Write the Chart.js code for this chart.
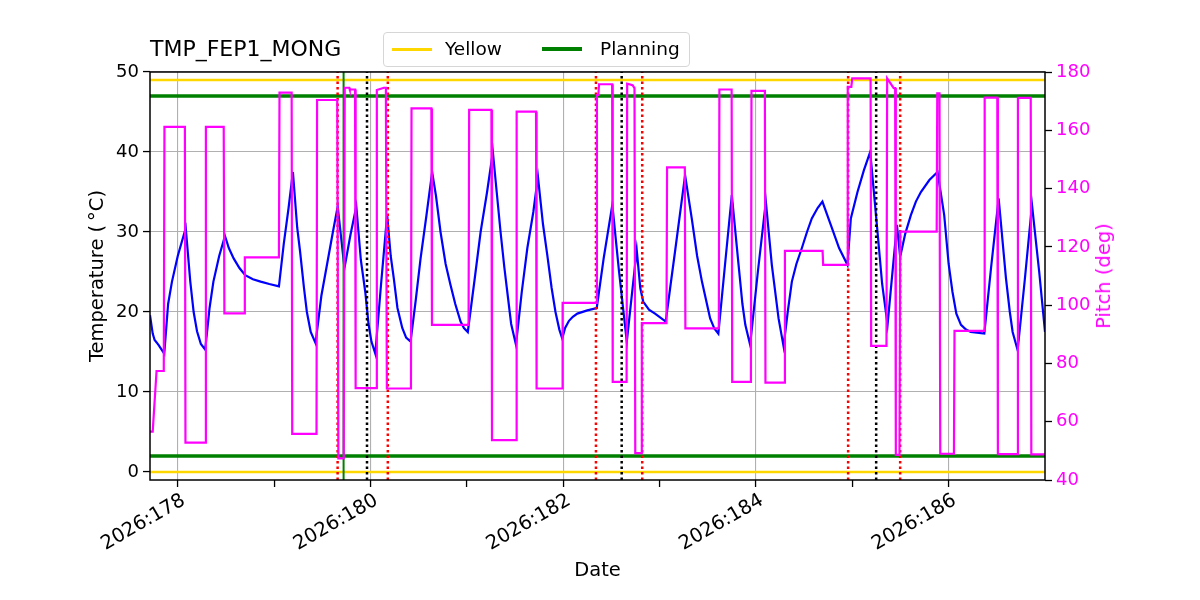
<!DOCTYPE html>
<html lang="en">
<head>
  <meta charset="UTF-8">
  <title>TMP_FEP1_MONG</title>
  <script src="https://cdn.jsdelivr.net/npm/chart.js"></script>
  <style>
    body { margin: 0; background: #fff; font-family: 'DejaVu Sans', sans-serif; }
    .wrap { position: relative; width: 1200px; height: 600px; }
    .title { position: absolute; left: 150px; top: 38px; font-size: 22px; line-height: 22px; color: #000; }
    .legend { position: absolute; left: 383px; top: 32px; width: 305px; height: 33px; border: 1px solid #d6d6d6; border-radius: 4px; background: rgba(255,255,255,0.85); }
    .legend .sw { position: absolute; width: 40px; }
    .legend .tx { position: absolute; top: 5px; font-size: 18.5px; line-height: 22px; color: #000; }
    .ylab2 { position: absolute; left: 1104px; top: 276px; transform: translate(-50%, -50%) rotate(-90deg);
             white-space: nowrap; font-size: 19.5px; line-height: 22px; color: #ff00ff; }
  </style>
</head>
<body>
<div class="wrap">
  <canvas id="chart" width="1200" height="600"></canvas>
  <div class="title">TMP_FEP1_MONG</div>
  <div class="legend">
    <div class="sw" style="left:8px;top:15px;height:2.5px;background:#ffd700"></div>
    <div class="tx" style="left:61px">Yellow</div>
    <div class="sw" style="left:158px;top:14px;height:3.5px;background:#008000"></div>
    <div class="tx" style="left:216px">Planning</div>
  </div>
  <div class="ylab2">Pitch (deg)</div>
</div>

<script>
  // x range in fractional day-of-year (2026)
  const xMin = 177.712, xMax = 187.0;
  const dayTicks = [178, 179, 180, 181, 182, 183, 184, 185, 186];

  // TMP_FEP1_MONG (degC)
  const tempDays = [
    177.712, 177.74, 177.76, 177.80, 177.86, 177.90, 177.94, 178.00, 178.083, 178.13,
    178.165, 178.20, 178.24, 178.285, 178.33, 178.37, 178.43, 178.49, 178.53, 178.58,
    178.64, 178.70, 178.78, 178.86, 178.95, 179.05, 179.10, 179.15, 179.195, 179.24,
    179.27, 179.31, 179.34, 179.38, 179.43, 179.49, 179.55, 179.61, 179.66, 179.73,
    179.79, 179.853, 179.90, 179.946, 179.98, 180.01, 180.05, 180.11, 180.173, 180.21,
    180.242, 180.28, 180.33, 180.37, 180.416, 180.47, 180.52, 180.58, 180.64, 180.68,
    180.727, 180.78, 180.83, 180.88, 180.935, 180.97, 181.01, 181.08, 181.143, 181.21,
    181.27, 181.31, 181.35, 181.39, 181.42, 181.46, 181.51, 181.57, 181.628, 181.69,
    181.738, 181.79, 181.835, 181.88, 181.92, 181.96, 181.99, 182.02, 182.06, 182.10,
    182.147, 182.25, 182.348, 182.42, 182.51, 182.58, 182.66, 182.763, 182.80, 182.83,
    182.89, 182.953, 183.064, 183.11, 183.16, 183.265, 183.334, 183.39, 183.44, 183.525,
    183.57, 183.61, 183.68, 183.75, 183.82, 183.86, 183.89, 183.94, 184.02, 184.103,
    184.165, 184.235, 184.287, 184.33, 184.373, 184.42, 184.477, 184.53, 184.58, 184.64,
    184.69, 184.777, 184.863, 184.95, 184.985, 185.054, 185.12, 185.186, 185.262, 185.31,
    185.366, 185.463, 185.497, 185.55, 185.608, 185.66, 185.712, 185.80, 185.885, 185.954,
    186.00, 186.04, 186.08, 186.128, 186.18, 186.23, 186.37, 186.44, 186.519, 186.595,
    186.635, 186.664, 186.716, 186.79, 186.865, 186.94, 186.993, 187.0
  ];
  const tempVals = [
    19.6, 17.3, 16.5, 15.9, 14.8, 21.0, 23.8, 27.0, 30.5, 23.8,
    20.0, 17.6, 16.0, 15.3, 20.5, 23.8, 27.0, 29.5, 28.0, 26.7,
    25.5, 24.6, 24.1, 23.8, 23.5, 23.2, 28.5, 33.0, 37.5, 30.5,
    27.5, 23.0, 20.0, 17.5, 16.1, 22.0, 26.0, 30.0, 33.2, 25.5,
    29.5, 33.2, 26.5, 22.5, 18.5, 16.3, 14.8, 23.5, 32.1, 27.0,
    24.2, 20.5, 18.0, 16.8, 16.3, 21.5, 26.7, 32.0, 37.5, 34.5,
    30.0, 26.0, 23.4, 21.0, 18.8, 18.0, 17.5, 24.0, 30.0, 35.0,
    40.0, 35.0, 30.0, 25.5, 22.5, 18.5, 15.9, 22.5, 28.0, 32.5,
    36.9, 31.0, 27.1, 23.0, 20.0, 17.8, 16.7, 18.0, 18.9, 19.4,
    19.8, 20.2, 20.5, 26.7, 33.4, 25.0, 16.3, 27.75, 23.0, 21.3,
    20.3, 19.8, 18.8, 23.0, 27.5, 37.1, 31.7, 27.0, 23.8, 19.2,
    17.9, 17.3, 26.0, 34.6, 25.9, 21.0, 18.4, 15.9, 25.0, 33.8,
    25.9, 19.2, 15.7, 20.0, 23.8, 26.0, 28.0, 30.0, 31.7, 33.0,
    33.8, 30.9, 28.0, 25.9, 31.7, 35.0, 37.7, 40.0, 30.0, 23.5,
    18.4, 30.9, 26.9, 29.8, 32.1, 33.8, 35.0, 36.5, 37.5, 32.1,
    26.0, 22.5, 19.8, 18.4, 17.8, 17.5, 17.3, 25.5, 34.2, 24.2,
    20.0, 17.5, 15.25, 24.0, 33.4, 25.0, 18.4, 17.5
  ];

  // Pitch (deg)
  const pitchDays = [
    177.712, 177.74, 177.78, 177.855, 177.862, 178.074, 178.08, 178.285, 178.292, 178.477,
    178.484, 178.69, 178.696, 179.05, 179.056, 179.182, 179.188, 179.44, 179.446, 179.655,
    179.667, 179.722, 179.733, 179.78, 179.785, 179.84, 179.846, 180.06, 180.066, 180.14,
    180.16, 180.17, 180.42, 180.426, 180.632, 180.638, 181.018, 181.024, 181.255, 181.261,
    181.511, 181.517, 181.718, 181.724, 181.988, 181.994, 182.345, 182.35, 182.365, 182.372,
    182.508, 182.514, 182.658, 182.664, 182.72, 182.74, 182.748, 182.81, 182.816, 183.072,
    183.078, 183.262, 183.268, 183.615, 183.621, 183.748, 183.754, 183.948, 183.954, 184.093,
    184.099, 184.295, 184.301, 184.692, 184.698, 184.948, 184.953, 184.99, 185.0, 185.19,
    185.196, 185.355, 185.362, 185.43, 185.445, 185.452, 185.49, 185.498, 185.876, 185.882,
    185.905, 185.913, 186.055, 186.061, 186.368, 186.374, 186.505, 186.511, 186.713, 186.719,
    186.852, 186.858, 187.0
  ];
  const pitchVals = [
    56.6, 56.6, 77.4, 77.4, 161.2, 161.2, 52.8, 52.8, 161.2, 161.2,
    97.2, 97.2, 116.4, 116.4, 172.9, 172.9, 55.8, 55.8, 170.4, 170.4,
    47.4, 47.4, 174.6, 174.6, 174.0, 174.0, 71.5, 71.5, 173.8, 174.6,
    174.6, 71.4, 71.4, 167.5, 167.5, 93.2, 93.2, 167.0, 167.0, 53.7,
    53.7, 166.4, 166.4, 71.4, 71.4, 100.8, 100.8, 172.1, 172.1, 175.8,
    175.8, 73.7, 73.7, 176.0, 175.5, 174.5, 49.2, 49.2, 93.8, 93.8,
    147.3, 147.3, 92.0, 92.0, 174.0, 174.0, 73.7, 73.7, 173.5, 173.5,
    73.4, 73.4, 118.6, 118.6, 113.8, 113.8, 174.9, 174.9, 177.8, 177.8,
    86.0, 86.0, 177.8, 174.5, 174.5, 48.6, 48.6, 125.2, 125.2, 172.7,
    172.7, 49.0, 49.0, 91.2, 91.2, 171.2, 171.2, 48.9, 48.9, 171.1,
    171.1, 48.8, 48.8
  ];

  // limit lines (degC) and event times (day)
  const yellowLimits = [0, 49];
  const planningLimits = [2, 47];
  const redTimes = [179.659, 180.18, 182.34, 182.82, 184.957, 185.497];
  const blackTimes = [179.964, 182.607, 185.248];
  const greenTimes = [179.721];

  const FONT = 'DejaVu Sans';

  function pts(xs, ys) {
    return xs.map((x, i) => ({ x: x, y: ys[i] }));
  }
  function hline(label, v, color, width) {
    return { label: label, data: [{ x: xMin, y: v }, { x: xMax, y: v }], borderColor: color,
             borderWidth: width, yAxisID: 'y', pointRadius: 0 };
  }
  function vline(t, color, dash, width) {
    return { label: 'event', data: [{ x: t, y: -1 }, { x: t, y: 50 }], borderColor: color,
             borderWidth: width, borderDash: dash, yAxisID: 'y', pointRadius: 0 };
  }

  // first dataset is drawn on top
  const datasets = [
    { label: 'Pitch', data: pts(pitchDays, pitchVals), borderColor: '#ff00ff', borderWidth: 2.2,
      yAxisID: 'y2', pointRadius: 0 }
  ];
  redTimes.forEach(t => datasets.push(vline(t, '#ff0000', [2.5, 3], 2.5)));
  blackTimes.forEach(t => datasets.push(vline(t, '#000000', [2.5, 3], 2.5)));
  greenTimes.forEach(t => datasets.push(vline(t, '#008000', [], 2)));
  planningLimits.forEach(v => datasets.push(hline('Planning', v, '#008000', 3.5)));
  yellowLimits.forEach(v => datasets.push(hline('Yellow', v, '#ffd700', 2.5)));
  datasets.push({ label: 'Temp', data: pts(tempDays, tempVals), borderColor: '#0000ff', borderWidth: 2.2,
                  yAxisID: 'y', pointRadius: 0 });

  // black frame round the plot area
  const frame = {
    id: 'frame',
    afterDraw(chart) {
      const a = chart.chartArea, c = chart.ctx;
      c.save();
      c.strokeStyle = '#000';
      c.lineWidth = 1.5;
      c.strokeRect(a.left, a.top, a.right - a.left, a.bottom - a.top);
      c.restore();
    }
  };

  new Chart(document.getElementById('chart'), {
    type: 'line',
    data: { datasets: datasets },
    plugins: [frame],
    options: {
      responsive: false,
      animation: false,
      devicePixelRatio: 1,
      elements: { line: { tension: 0 } },
      layout: { padding: { left: 82, right: 83, top: 72, bottom: 13 } },
      plugins: { legend: { display: false }, title: { display: false }, tooltip: { enabled: false } },
      scales: {
        x: {
          type: 'linear', min: xMin, max: xMax,
          afterFit: s => { s.height = 107; },
          afterBuildTicks: s => { s.ticks = dayTicks.map(v => ({ value: v })); },
          border: { display: false },
          grid: {
            color: ctx => (ctx.tick && ctx.tick.value % 2 === 0) ? '#b0b0b0' : 'rgba(0,0,0,0)',
            tickColor: '#000', lineWidth: 1.1, tickLength: 7, tickWidth: 1.3
          },
          ticks: {
            autoSkip: false, minRotation: 30, maxRotation: 30, padding: 2, labelOffset: 6,
            color: '#000', font: { family: FONT, size: 19.5 },
            callback: v => v % 2 === 0 ? '2026:' + v : ''
          },
          title: { display: true, text: 'Date', color: '#000', font: { family: FONT, size: 19.5 } }
        },
        y: {
          position: 'left', min: -1, max: 50,
          afterFit: s => { s.width = 68; },
          afterBuildTicks: s => { s.ticks = [0, 10, 20, 30, 40, 50].map(v => ({ value: v })); },
          border: { display: false },
          grid: { color: '#b0b0b0', tickColor: '#000', lineWidth: 1.1, tickLength: 7, tickWidth: 1.3 },
          ticks: { color: '#000', padding: 4, font: { family: FONT, size: 18 } },
          title: { display: true, text: 'Temperature (\u2009°C)', color: '#000', font: { family: FONT, size: 19.5 } }
        },
        y2: {
          position: 'right', min: 40, max: 180,
          afterFit: s => { s.width = 72; },
          afterBuildTicks: s => { s.ticks = [40, 60, 80, 100, 120, 140, 160, 180].map(v => ({ value: v })); },
          border: { display: false },
          grid: { drawOnChartArea: false, tickColor: '#000', tickLength: 7, tickWidth: 1.3 },
          ticks: { color: '#ff00ff', padding: 4, font: { family: FONT, size: 18 } },
          title: { display: false }
        }
      }
    }
  });
</script>
</body>
</html>
